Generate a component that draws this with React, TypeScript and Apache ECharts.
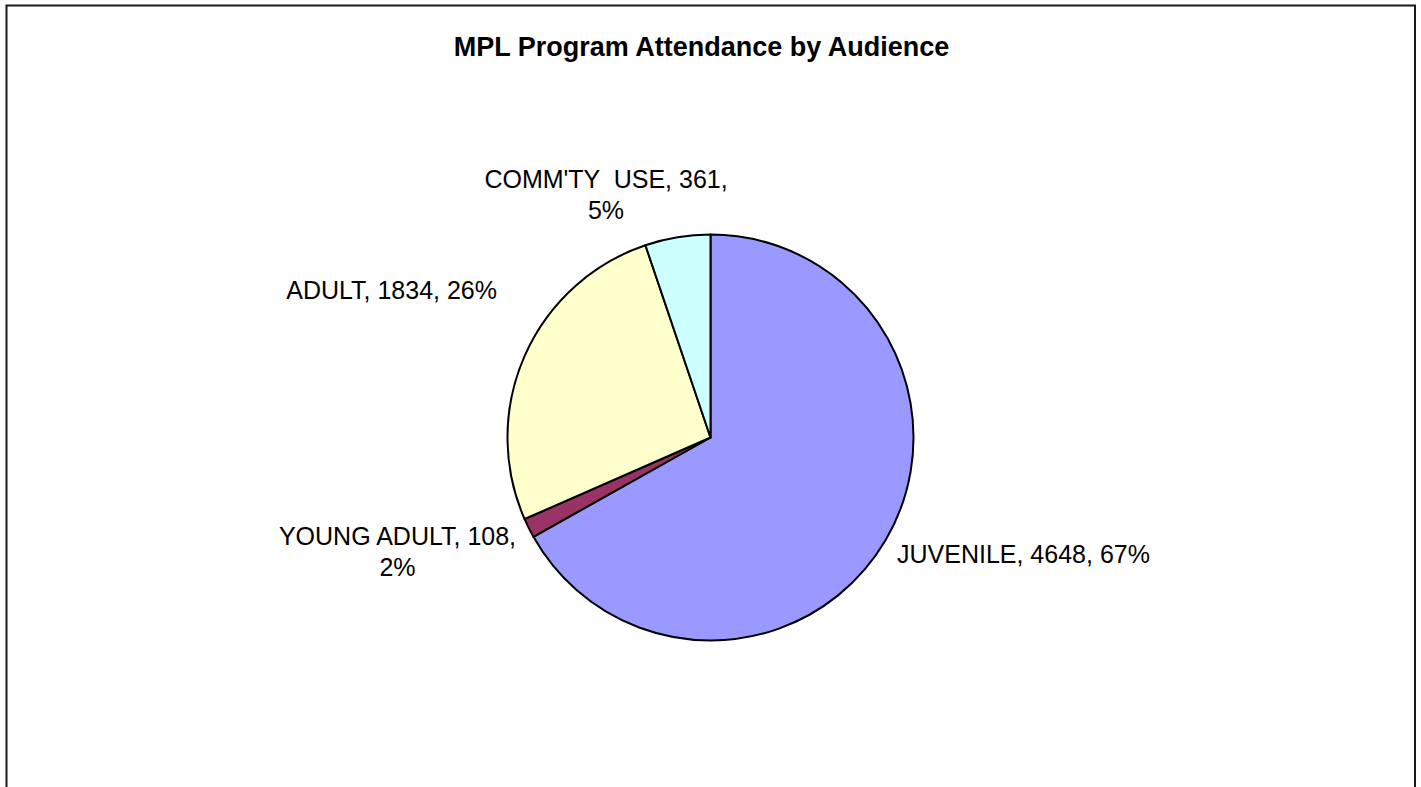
import React, { useEffect, useRef } from "react";
import * as echarts from "echarts";

const categories = ["JUVENILE", "YOUNG ADULT", "ADULT", "COMM'TY  USE"];
const values = [4648, 108, 1834, 361];
const colors = ["#9999FF", "#993366", "#FFFFCC", "#CCFFFF"];
const wrapAfterValue = [false, true, false, true];
const titleText = "MPL Program Attendance by Audience";

// label anchors (x, y, align) — styling only
const labelAnchors: [number, number, string][] = [
  [897, 554, "left"],
  [397.5, 551, "center"],
  [497, 290, "right"],
  [606, 194, "center"],
];

const FONT = "'Liberation Sans', Arial, Helvetica, sans-serif";

export default function App() {
  const ref = useRef<HTMLDivElement>(null);
  useEffect(() => {
    if (!ref.current) return;
    const chart = echarts.init(ref.current, undefined, { renderer: "svg" });
    chart.setOption({
      animation: false,
      backgroundColor: "#ffffff",
      graphic: [
        {
          type: "rect",
          shape: { x: 6.5, y: 5.5, width: 1408.5, height: 900 },
          style: { fill: "none", stroke: "#1a1a1a", lineWidth: 2 },
          silent: true,
        },
        {
          type: "text",
          x: 701.5,
          y: 46.5,
          style: {
            text: titleText,
            fontFamily: FONT,
            fontWeight: "bold",
            fontSize: 27,
            fill: "#000",
            textAlign: "center",
            textVerticalAlign: "middle",
          },
        },
      ],
      series: [
        {
          type: "pie",
          center: [710.5, 437.5],
          radius: 203,
          startAngle: 90,
          clockwise: true,
          avoidLabelOverlap: false,
          itemStyle: { borderColor: "#000", borderWidth: 2 },
          emphasis: { disabled: true },
          label: {
            show: true,
            position: "outside",
            fontFamily: FONT,
            fontSize: 25,
            lineHeight: 31,
            color: "#000",
            formatter: (p: any) =>
              `${p.name}, ${p.value},${wrapAfterValue[p.dataIndex] ? "\n" : " "}${Math.round(p.percent)}%`,
          },
          labelLine: { show: false },
          labelLayout: (p: any) => {
            const a = labelAnchors[p.dataIndex];
            return { x: a[0], y: a[1], align: a[2], verticalAlign: "middle" };
          },
          data: categories.map((name, i) => ({
            name,
            value: values[i],
            itemStyle: { color: colors[i] },
          })),
        },
      ],
    });
    return () => chart.dispose();
  }, []);
  return (
    <div
      ref={ref}
      style={{ position: "fixed", left: 0, top: 0, width: 1421, height: 787 }}
    />
  );
}
